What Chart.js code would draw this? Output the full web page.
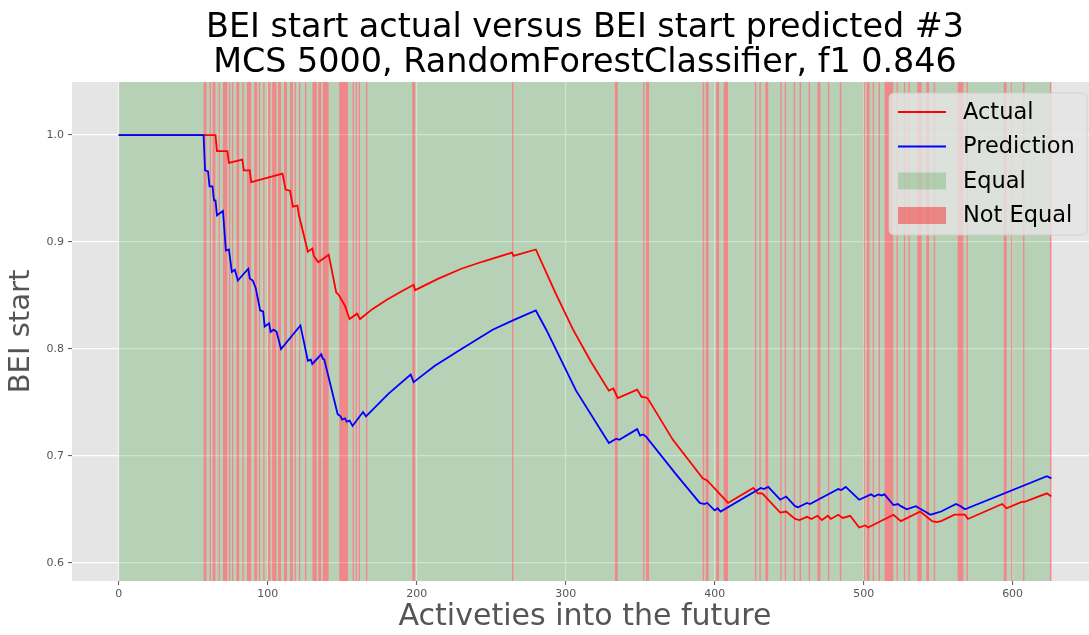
<!DOCTYPE html>
<html>
<head>
<meta charset="utf-8">
<script src="https://cdn.jsdelivr.net/npm/chart.js@4.4.1/dist/chart.umd.min.js"></script>
<style>
  html, body { margin: 0; padding: 0; background: #fff; overflow: hidden; }
  #wrap { width: 1089px; height: 635px; overflow: hidden; }
</style>
</head>
<body>
<div id="wrap"><canvas id="grafico" width="1170" height="635"></canvas></div>
<script>
// Serie real (Actual): vértices x / y
const actualX = [0, 65, 66, 73, 74, 83, 84, 88, 89, 110, 112, 115, 117, 120, 121, 127, 130, 131, 134, 141,
  146, 148, 150, 152, 155, 160, 162, 170, 180, 190, 198, 199, 215, 230, 245, 264, 265, 280, 293, 305,
  317, 329, 332, 335, 348, 351, 353, 355, 372, 392, 395, 409, 426, 429, 432, 444, 448, 454, 457, 462,
  465, 469, 472, 476, 478, 483, 486, 491, 497, 501, 503, 520, 525, 538, 546, 549, 552, 561, 566, 568,
  570, 593, 596, 606, 608, 623, 626];
const actualY = [1.0, 1.0, 0.985, 0.985, 0.974, 0.977, 0.967, 0.967, 0.956, 0.964, 0.949, 0.948, 0.933, 0.934, 0.925, 0.891, 0.894, 0.887, 0.881, 0.888,
  0.853, 0.850, 0.845, 0.840, 0.828, 0.833, 0.828, 0.837, 0.846, 0.854, 0.860, 0.855, 0.866, 0.875, 0.882, 0.890, 0.887, 0.893, 0.853, 0.818,
  0.788, 0.761, 0.763, 0.754, 0.762, 0.755, 0.755, 0.754, 0.715, 0.679, 0.677, 0.656, 0.670, 0.665, 0.665, 0.647, 0.648, 0.641, 0.640, 0.643,
  0.641, 0.644, 0.640, 0.644, 0.641, 0.645, 0.642, 0.644, 0.633, 0.635, 0.633, 0.645, 0.639, 0.648, 0.639, 0.638, 0.639, 0.645, 0.645, 0.645,
  0.641, 0.655, 0.651, 0.657, 0.657, 0.665, 0.662];

// Serie predicha (Prediction)
const prediccionX = [0, 57, 58, 60, 61, 63, 64, 65, 66, 70, 72, 74, 76, 78, 80, 87, 88, 90, 92, 95,
  97, 98, 101, 102, 104, 106, 109, 122, 127, 129, 130, 136, 137, 138, 147, 149, 150, 152, 153, 155,
  157, 164, 166, 181, 196, 198, 212, 229, 251, 265, 280, 287, 307, 329, 334, 336, 348, 350, 352, 354,
  374, 390, 393, 395, 400, 402, 404, 431, 433, 436, 444, 448, 454, 456, 462, 464, 483, 485, 488, 497,
  505, 507, 510, 512, 514, 520, 523, 525, 529, 535, 540, 545, 552, 562, 565, 568, 623, 626];
const prediccionY = [1.0, 1.0, 0.967, 0.966, 0.952, 0.952, 0.939, 0.939, 0.925, 0.929, 0.892, 0.893, 0.872, 0.874, 0.864, 0.875, 0.866, 0.864, 0.857, 0.836,
  0.835, 0.821, 0.824, 0.816, 0.818, 0.816, 0.800, 0.822, 0.789, 0.790, 0.786, 0.795, 0.791, 0.790, 0.739, 0.737, 0.734, 0.735, 0.732, 0.733,
  0.728, 0.741, 0.737, 0.758, 0.776, 0.769, 0.784, 0.799, 0.818, 0.827, 0.836, 0.818, 0.761, 0.712, 0.716, 0.715, 0.725, 0.719, 0.720, 0.718,
  0.683, 0.656, 0.655, 0.656, 0.649, 0.651, 0.648, 0.670, 0.669, 0.671, 0.659, 0.662, 0.653, 0.652, 0.656, 0.655, 0.669, 0.668, 0.671, 0.659,
  0.664, 0.662, 0.664, 0.663, 0.664, 0.654, 0.655, 0.653, 0.650, 0.653, 0.649, 0.645, 0.648, 0.655, 0.653, 0.650, 0.681, 0.679];

// Actividades donde la predicción no coincide con el valor real
const noIguales = [57, 58, 61, 63, 64, 67, 70, 71, 72, 74, 76, 79, 80, 83, 86, 87, 88, 91, 92, 94,
  97, 100, 101, 103, 104, 105, 107, 108, 111, 112, 115, 116, 118, 121, 125, 130, 131, 132, 134, 135,
  137, 138, 139, 140, 148, 149, 150, 151, 152, 153, 157, 159, 161, 166, 197, 198, 264, 333, 334, 352,
  354, 355, 392, 394, 395, 401, 402, 406, 407, 408, 427, 430, 434, 435, 444, 447, 453, 457, 463, 469,
  470, 476, 484, 500, 502, 503, 506, 510, 514, 515, 516, 517, 518, 519, 522, 527, 530, 536, 537, 538,
  542, 543, 547, 563, 564, 565, 566, 569, 594, 595, 599, 607, 625];
const totalActividades = 626;

const ticksX = [0, 100, 200, 300, 400, 500, 600];
const ticksY = [0.6, 0.7, 0.8, 0.9, 1.0];

const colorIgual = 'rgba(0, 128, 0, 0.2)';
const colorNoIgual = 'rgba(255, 0, 0, 0.4)';

// Agrupar las actividades en tramos consecutivos (igual / no igual)
function construirTramos() {
  const set = new Set(noIguales);
  const tramos = [];
  let inicio = 0;
  let estado = set.has(0);
  for (let i = 1; i <= totalActividades; i++) {
    const e = i < totalActividades ? set.has(i) : !estado;
    if (e !== estado || i === totalActividades) {
      tramos.push({ desde: inicio, hasta: i, noIgual: estado });
      inicio = i;
      estado = e;
    }
  }
  return tramos;
}
const tramos = construirTramos();

const fondoPlugin = {
  id: 'fondo',
  beforeDraw(chart) {
    const { ctx, chartArea: a } = chart;
    ctx.save();
    ctx.fillStyle = '#E5E5E5';
    ctx.fillRect(a.left, a.top, a.right - a.left, a.bottom - a.top);
    ctx.restore();
  },
  beforeDatasetsDraw(chart) {
    const { ctx, chartArea: a, scales } = chart;
    ctx.save();
    ctx.beginPath();
    ctx.rect(a.left, a.top, a.right - a.left, a.bottom - a.top);
    ctx.clip();
    tramos.forEach(t => {
      const x0 = scales.x.getPixelForValue(t.desde);
      const x1 = scales.x.getPixelForValue(t.hasta);
      ctx.fillStyle = t.noIgual ? colorNoIgual : colorIgual;
      ctx.fillRect(x0, a.top, x1 - x0, a.bottom - a.top);
    });
    ctx.restore();
  }
};

// Leyenda dentro del área del gráfico, arriba a la derecha
const leyendaPlugin = {
  id: 'leyenda',
  afterDraw(chart) {
    const ctx = chart.ctx;
    const x = 889, y = 93, w = 198, h = 142, r = 5;
    ctx.save();
    ctx.beginPath();
    ctx.roundRect(x, y, w, h, r);
    ctx.fillStyle = 'rgba(229, 229, 229, 0.8)';
    ctx.fill();
    ctx.strokeStyle = 'rgba(204, 204, 204, 0.8)';
    ctx.lineWidth = 1;
    ctx.stroke();

    const items = [
      { texto: chart.data.datasets[1].label, tipo: 'linea', color: chart.data.datasets[1].borderColor },
      { texto: chart.data.datasets[0].label, tipo: 'linea', color: chart.data.datasets[0].borderColor },
      { texto: 'Equal', tipo: 'caja', color: colorIgual },
      { texto: 'Not Equal', tipo: 'caja', color: colorNoIgual }
    ];
    ctx.font = '22.5px "DejaVu Sans"';
    ctx.textBaseline = 'middle';
    items.forEach((it, i) => {
      const cy = 112 + i * 34.5;
      if (it.tipo === 'linea') {
        ctx.strokeStyle = it.color;
        ctx.lineWidth = 1.8;
        ctx.beginPath();
        ctx.moveTo(898, cy);
        ctx.lineTo(946, cy);
        ctx.stroke();
      } else {
        ctx.fillStyle = it.color;
        ctx.fillRect(898, cy - 8.5, 48, 17);
      }
      ctx.fillStyle = '#000';
      ctx.fillText(it.texto, 963, cy + 1);
    });
    ctx.restore();
  }
};

const ctx = document.getElementById('grafico').getContext('2d');
const grafico = new Chart(ctx, {
  type: 'line',
  data: {
    datasets: [
      {
        label: 'Prediction',
        data: prediccionX.map((x, i) => ({ x: x, y: prediccionY[i] })),
        borderColor: '#0000FF',
        borderWidth: 1.8,
        pointRadius: 0,
        tension: 0,
        order: 0
      },
      {
        label: 'Actual',
        data: actualX.map((x, i) => ({ x: x, y: actualY[i] })),
        borderColor: '#FF0000',
        borderWidth: 1.8,
        pointRadius: 0,
        tension: 0,
        order: 1
      }
    ]
  },
  options: {
    responsive: false,
    animation: false,
    layout: { padding: { left: 0, right: 72, top: 0, bottom: 0 } },
    plugins: {
      legend: { display: false },
      tooltip: { enabled: false },
      title: {
        display: true,
        fullSize: false,
        text: ['BEI start actual versus BEI start predicted #3', 'MCS 5000, RandomForestClassifier, f1 0.846'],
        color: '#000',
        font: { family: 'DejaVu Sans', size: 33.4, weight: 'normal', lineHeight: 1.05 },
        padding: { top: 11, bottom: 0.9 }
      }
    },
    scales: {
      x: {
        type: 'linear',
        min: -31.3,
        max: 657.3,
        afterBuildTicks: axis => { axis.ticks = ticksX.map(v => ({ value: v })); },
        afterFit: axis => { axis.height = 54; },
        ticks: {
          color: '#555555',
          font: { family: 'DejaVu Sans', size: 11 },
          padding: 3,
          maxRotation: 0
        },
        grid: { color: '#FFFFFF', lineWidth: 1.2, tickColor: '#555555', tickLength: 4, tickWidth: 1 },
        border: { display: false },
        title: {
          display: true,
          text: 'Activeties into the future',
          color: '#555555',
          font: { family: 'DejaVu Sans', size: 30, lineHeight: 1.16 },
          padding: 0
        }
      },
      y: {
        type: 'linear',
        min: 0.583,
        max: 1.0496,
        afterBuildTicks: axis => { axis.ticks = ticksY.map(v => ({ value: v })); },
        afterFit: axis => { axis.width = 72; },
        ticks: {
          color: '#555555',
          font: { family: 'DejaVu Sans', size: 11 },
          padding: 4,
          callback: v => v.toFixed(1)
        },
        grid: { color: '#FFFFFF', lineWidth: 1.2, tickColor: '#555555', tickLength: 4, tickWidth: 1 },
        border: { display: false },
        title: {
          display: true,
          text: 'BEI start',
          color: '#555555',
          font: { family: 'DejaVu Sans', size: 29, lineHeight: 1.2 },
          padding: { top: 4, bottom: 0 }
        }
      }
    }
  },
  plugins: [fondoPlugin, leyendaPlugin]
});
</script>
</body>
</html>
